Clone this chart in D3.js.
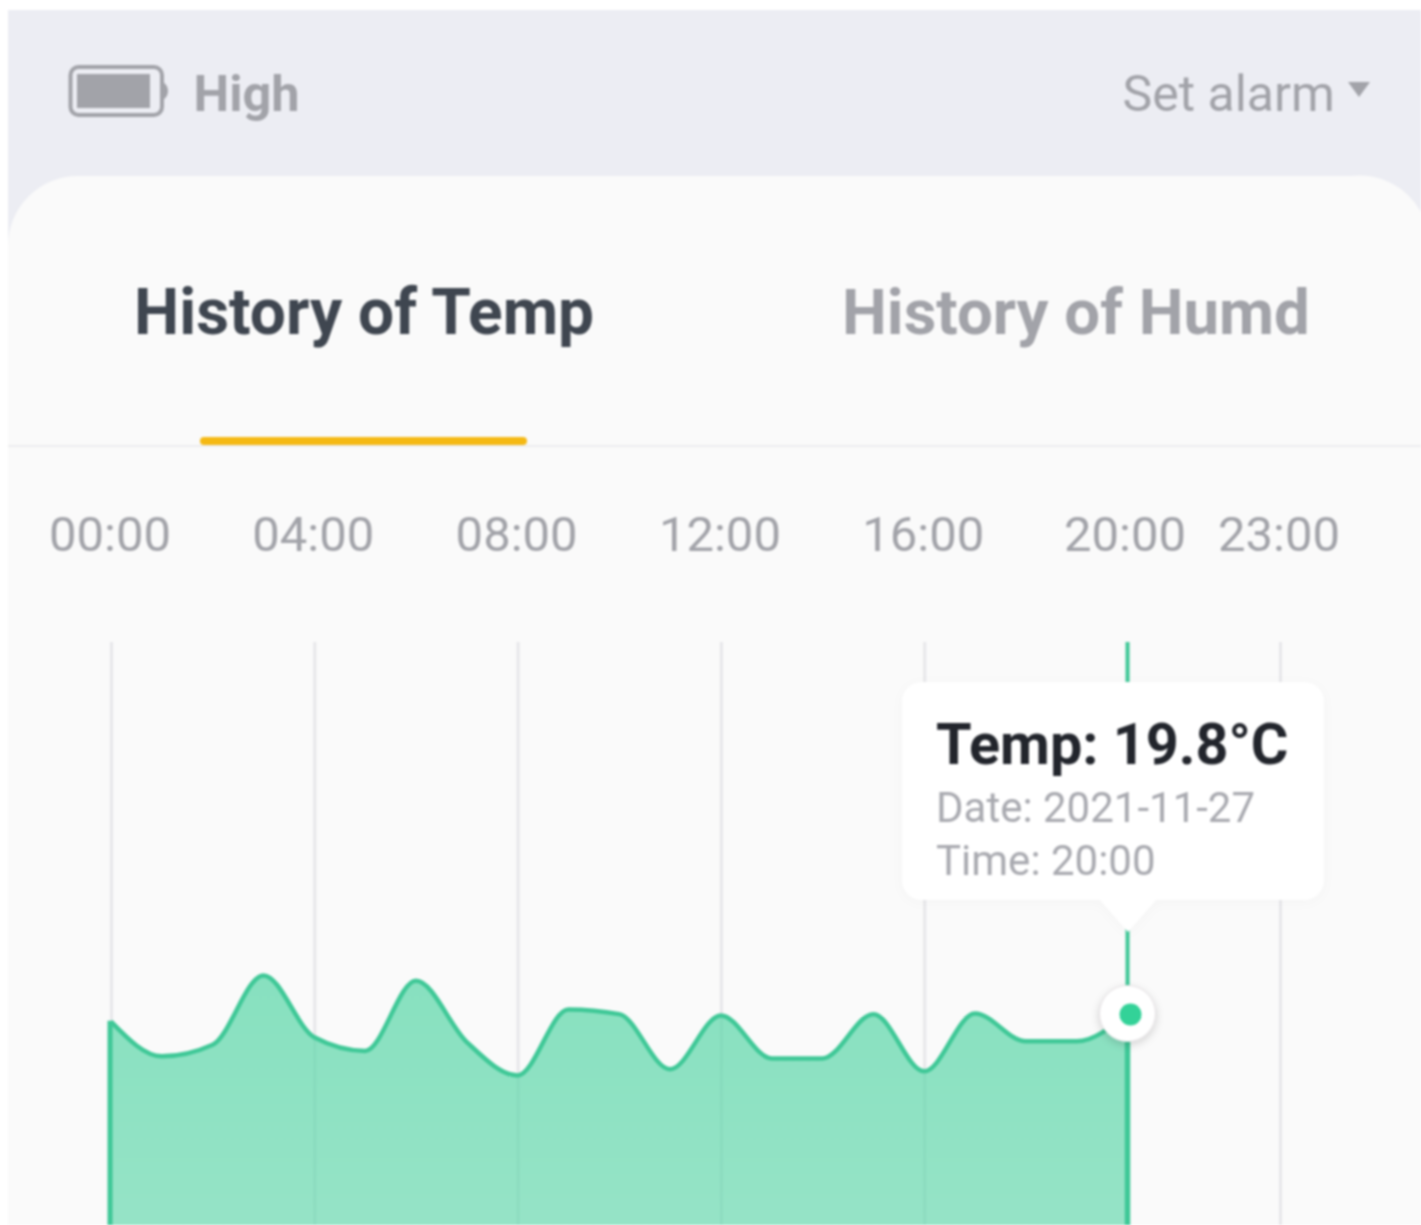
<!DOCTYPE html>
<html>
<head>
<meta charset="utf-8">
<script src="https://cdn.jsdelivr.net/npm/d3@7"></script>
<style>
  html, body { margin: 0; padding: 0; background: #fff; }
  svg { display: block; filter: blur(0.9px); font-family: Roboto, sans-serif; }
</style>
</head>
<body>
<svg id="chart" width="1421" height="1225"></svg>
<script>
// hourly readings
const hours = [0, 1, 2, 3, 4, 5, 6, 7, 8, 9, 10, 11, 12, 13, 14, 15, 16, 17, 18, 19, 20];
const temps = [19.68, 19.17, 19.34, 20.36, 19.45, 19.25, 20.28, 19.38, 18.89, 19.86, 19.79,
               18.98, 19.77, 19.14, 19.14, 19.79, 18.95, 19.80, 19.39, 19.39, 19.80];
const tickHours = [0, 4, 8, 12, 16, 20, 23];
const tickLabels = ['00:00', '04:00', '08:00', '12:00', '16:00', '20:00', '23:00'];
const tabs = ['History of Temp', 'History of Humd'];
const tooltipLines = ['Temp: 19.8°C', 'Date: 2021-11-27', 'Time: 20:00'];
const selectedHour = 20;
const selectedTemp = 19.8;

const svg = d3.select('#chart');
const grey = '#a2a3a9';
const green = '#3fc897';

const xScale = d3.scaleLinear().domain([0, 23]).range([111, 1280]);
const yScale = d3.scaleLinear().domain([16.5, 25.26]).range([1238, 642]);

// gradient for the area
const grad = svg.append('defs').append('linearGradient')
    .attr('id', 'areaFill')
    .attr('x1', 0).attr('y1', 0).attr('x2', 0).attr('y2', 1);
grad.append('stop').attr('offset', '0%').attr('stop-color', '#54d5a5').attr('stop-opacity', 0.69);
grad.append('stop').attr('offset', '100%').attr('stop-color', '#54d5a5').attr('stop-opacity', 0.6);

const tipShadow = svg.select('defs').append('filter')
    .attr('id', 'tipSoft')
    .attr('x', '-30%').attr('y', '-30%').attr('width', '160%').attr('height', '160%');
tipShadow.append('feDropShadow')
    .attr('dx', 0).attr('dy', 2).attr('stdDeviation', 6)
    .attr('flood-color', '#000').attr('flood-opacity', 0.025);

const dotShadow = svg.select('defs').append('filter')
    .attr('id', 'dotSoft')
    .attr('x', '-30%').attr('y', '-30%').attr('width', '160%').attr('height', '160%');
dotShadow.append('feDropShadow')
    .attr('dx', 0).attr('dy', 3).attr('stdDeviation', 4)
    .attr('flood-color', '#000').attr('flood-opacity', 0.16);

// page header
svg.append('rect')
    .attr('x', 8).attr('y', 10)
    .attr('width', 1413).attr('height', 1215)
    .attr('fill', '#ecedf3');

// card, corners rounded only at the top
svg.append('path')
    .attr('d', 'M8,1225V246A70,70 0 0 1 78,176H1351A70,70 0 0 1 1421,212V1225Z')
    .attr('fill', '#fafafa');

// battery icon
const battery = svg.append('g');
battery.append('rect')
    .attr('x', 70.5).attr('y', 67).attr('width', 91.5).attr('height', 48).attr('rx', 8)
    .attr('fill', 'none').attr('stroke', grey).attr('stroke-width', 4);
battery.append('rect')
    .attr('x', 77).attr('y', 74).attr('width', 73).attr('height', 34)
    .attr('fill', grey);
battery.append('path')
    .attr('d', 'M163,82C166,84 168,87 168,91C168,95 166,98 163,100Z')
    .attr('fill', grey);

svg.append('text')
    .attr('x', 193.5).attr('y', 110.5)
    .attr('font-size', 50.5).attr('font-weight', 700)
    .attr('fill', grey)
    .text('High');

svg.append('text')
    .attr('x', 1122.5).attr('y', 110.5)
    .attr('font-size', 50)
    .attr('fill', grey)
    .text('Set alarm');

svg.append('path')
    .attr('d', 'M1348,82H1370L1359,97Z')
    .attr('fill', grey);

// tabs
svg.selectAll('.tab')
    .data(tabs)
  .join('text')
    .attr('class', 'tab')
    .attr('x', (d, i) => i === 0 ? 134 : 842)
    .attr('y', 334)
    .attr('font-size', (d, i) => i === 0 ? 64 : 63.5).attr('font-weight', 700)
    .attr('fill', (d, i) => i === 0 ? '#3f4650' : grey)
    .text(d => d);

svg.append('line')
    .attr('x1', 8).attr('x2', 1421)
    .attr('y1', 446).attr('y2', 446)
    .attr('stroke', '#e9e9eb').attr('stroke-width', 1.5);

svg.append('rect')
    .attr('x', 200).attr('y', 437)
    .attr('width', 327).attr('height', 8).attr('rx', 4)
    .attr('fill', '#f5b914');

// x axis: tick lines are the grid, labels sit above
const xAxis = d3.axisBottom(xScale)
    .tickValues(tickHours)
    .tickFormat((d, i) => tickLabels[i])
    .tickSize(1225 - 642);

const xAxisG = svg.append('g')
    .attr('class', 'axis x-axis')
    .attr('transform', 'translate(0,642)')
    .call(xAxis);

xAxisG.select('.domain').remove();
xAxisG.selectAll('.tick line')
    .attr('stroke', '#e7e7ea')
    .attr('stroke-width', 3);
xAxisG.selectAll('.tick text')
    .attr('font-family', 'Roboto, sans-serif')
    .attr('font-size', 49)
    .attr('fill', grey)
    .attr('y', -91)
    .attr('dy', 0)
    .attr('dx', d => d === 20 ? -3 : -1.5);

// area and its line
const selectedData = hours.map((h, i) => ({ hour: h, temp: temps[i] }));

const area = d3.area()
    .x(d => xScale(d.hour))
    .y0(1240)
    .y1(d => yScale(d.temp))
    .curve(d3.curveMonotoneX);

const line = d3.line()
    .x(d => xScale(d.hour))
    .y(d => yScale(d.temp))
    .curve(d3.curveMonotoneX);

svg.append('path')
    .datum(selectedData)
    .attr('d', area)
    .attr('fill', 'url(#areaFill)');

svg.append('path')
    .datum(selectedData)
    .attr('d', line)
    .attr('fill', 'none')
    .attr('stroke', green)
    .attr('stroke-width', 4.5);

// left edge of the area
svg.append('line')
    .attr('x1', xScale(0) - 1).attr('x2', xScale(0) - 1)
    .attr('y1', yScale(temps[0]) - 1).attr('y2', 1225)
    .attr('stroke', green).attr('stroke-width', 5);

// marker line for the selected hour, thicker along the area
svg.append('line')
    .attr('x1', xScale(selectedHour)).attr('x2', xScale(selectedHour))
    .attr('y1', 642).attr('y2', yScale(selectedTemp))
    .attr('stroke', green).attr('stroke-width', 4);

svg.append('line')
    .attr('x1', xScale(selectedHour)).attr('x2', xScale(selectedHour))
    .attr('y1', yScale(selectedTemp)).attr('y2', 1225)
    .attr('stroke', green).attr('stroke-width', 5.5);

// tooltip
svg.append('path')
    .attr('d', 'M922,682H1304A20,20 0 0 1 1324,702V880A20,20 0 0 1 1304,900H1156L1128,932L1100,900H922A20,20 0 0 1 902,880V702A20,20 0 0 1 922,682Z')
    .attr('fill', '#fff')
    .attr('filter', 'url(#tipSoft)');

svg.selectAll('.tip-line')
    .data(tooltipLines)
  .join('text')
    .attr('class', 'tip-line')
    .attr('x', 936)
    .attr('y', (d, i) => [764, 822, 875][i])
    .attr('font-size', (d, i) => i === 0 ? 57.5 : 42)
    .attr('font-weight', (d, i) => i === 0 ? 700 : 400)
    .attr('fill', (d, i) => i === 0 ? '#22252c' : '#a9aab0')
    .text(d => d);

// selected point
svg.append('circle')
    .attr('cx', xScale(selectedHour)).attr('cy', yScale(selectedTemp))
    .attr('r', 28)
    .attr('fill', '#fff')
    .attr('stroke', '#e4e0e3').attr('stroke-width', 1)
    .attr('filter', 'url(#dotSoft)');

svg.append('circle')
    .attr('cx', xScale(selectedHour) + 3).attr('cy', yScale(selectedTemp) + 1)
    .attr('r', 11)
    .attr('fill', '#33d298');
</script>
</body>
</html>
